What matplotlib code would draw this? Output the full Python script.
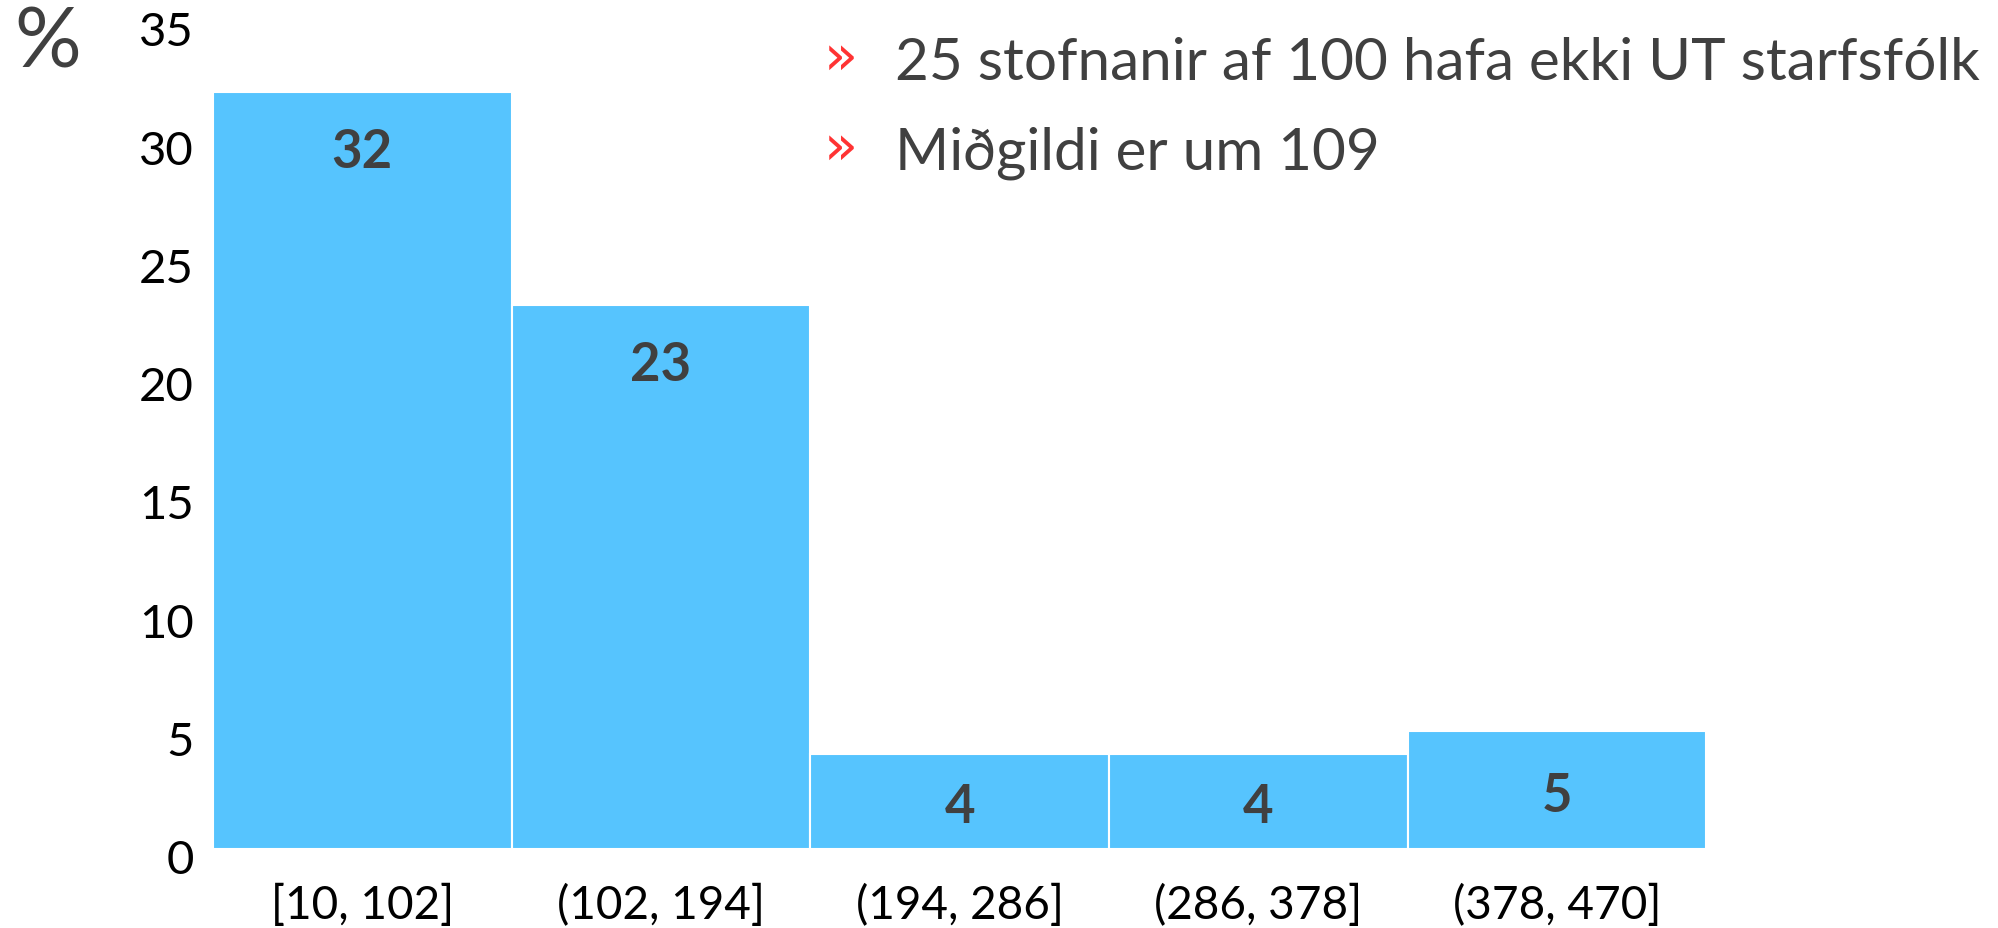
import matplotlib
matplotlib.use("Agg")
import matplotlib.pyplot as plt
import numpy as np
from matplotlib.transforms import ScaledTranslation

categories = ["[10, 102]", "(102, 194]", "(194, 286]", "(286, 378]", "(378, 470]"]
values = [32, 23, 4, 4, 5]
yticks = [0, 5, 10, 15, 20, 25, 30, 35]
bullets = ["25 stofnanir af 100 hafa ekki UT starfsfólk", "Miðgildi er um 109"]

BAR = "#56C4FE"
TXT = "#404040"
FONT = ["Lato", "DejaVu Sans"]
plt.rcParams["font.family"] = FONT

fig = plt.figure(figsize=(19.98, 9.29), dpi=100)
ax = fig.add_axes([0.1066, 0.085, 0.7474, 0.891])
x = np.arange(len(values))
ax.bar(x, values, width=1.0, color=BAR, edgecolor="white", linewidth=1.5)
ax.set_xlim(-0.5, len(values) - 0.5)
ax.set_ylim(0, 35)
for s in ax.spines.values():
    s.set_visible(False)
ax.set_yticks(yticks)
ax.set_yticklabels([str(t) for t in yticks], fontsize=34, color="black")
ax.set_xticks(x)
ax.set_xticklabels(categories, fontsize=33, color="black")
ax.tick_params(axis="both", length=0)
ax.tick_params(axis="y", pad=14)
ax.tick_params(axis="x", pad=24)
off = ScaledTranslation(0, -8 / 72, fig.dpi_scale_trans)
for lab in ax.get_yticklabels():
    lab.set_va("center")
    lab.set_transform(lab.get_transform() + off)

for xi, v in zip(x, values):
    ypos = v - 2.5 if v > 10 else v * 0.45
    ax.text(xi, ypos, str(v), ha="center", va="center", fontsize=38,
            fontweight="bold", color=TXT)

fig.text(0.007, 0.952, "%", fontsize=60, color=TXT, ha="left", va="center")

for i, b in enumerate(bullets):
    yy = 0.932 - i * 0.097
    fig.text(0.4125, yy + 0.005, "»", fontsize=40, color="#FF3333", ha="left",
             va="center", family="DejaVu Sans")
    fig.text(0.448, yy, b, fontsize=42, color=TXT, ha="left", va="center")

fig.savefig("out.png", dpi=100)
